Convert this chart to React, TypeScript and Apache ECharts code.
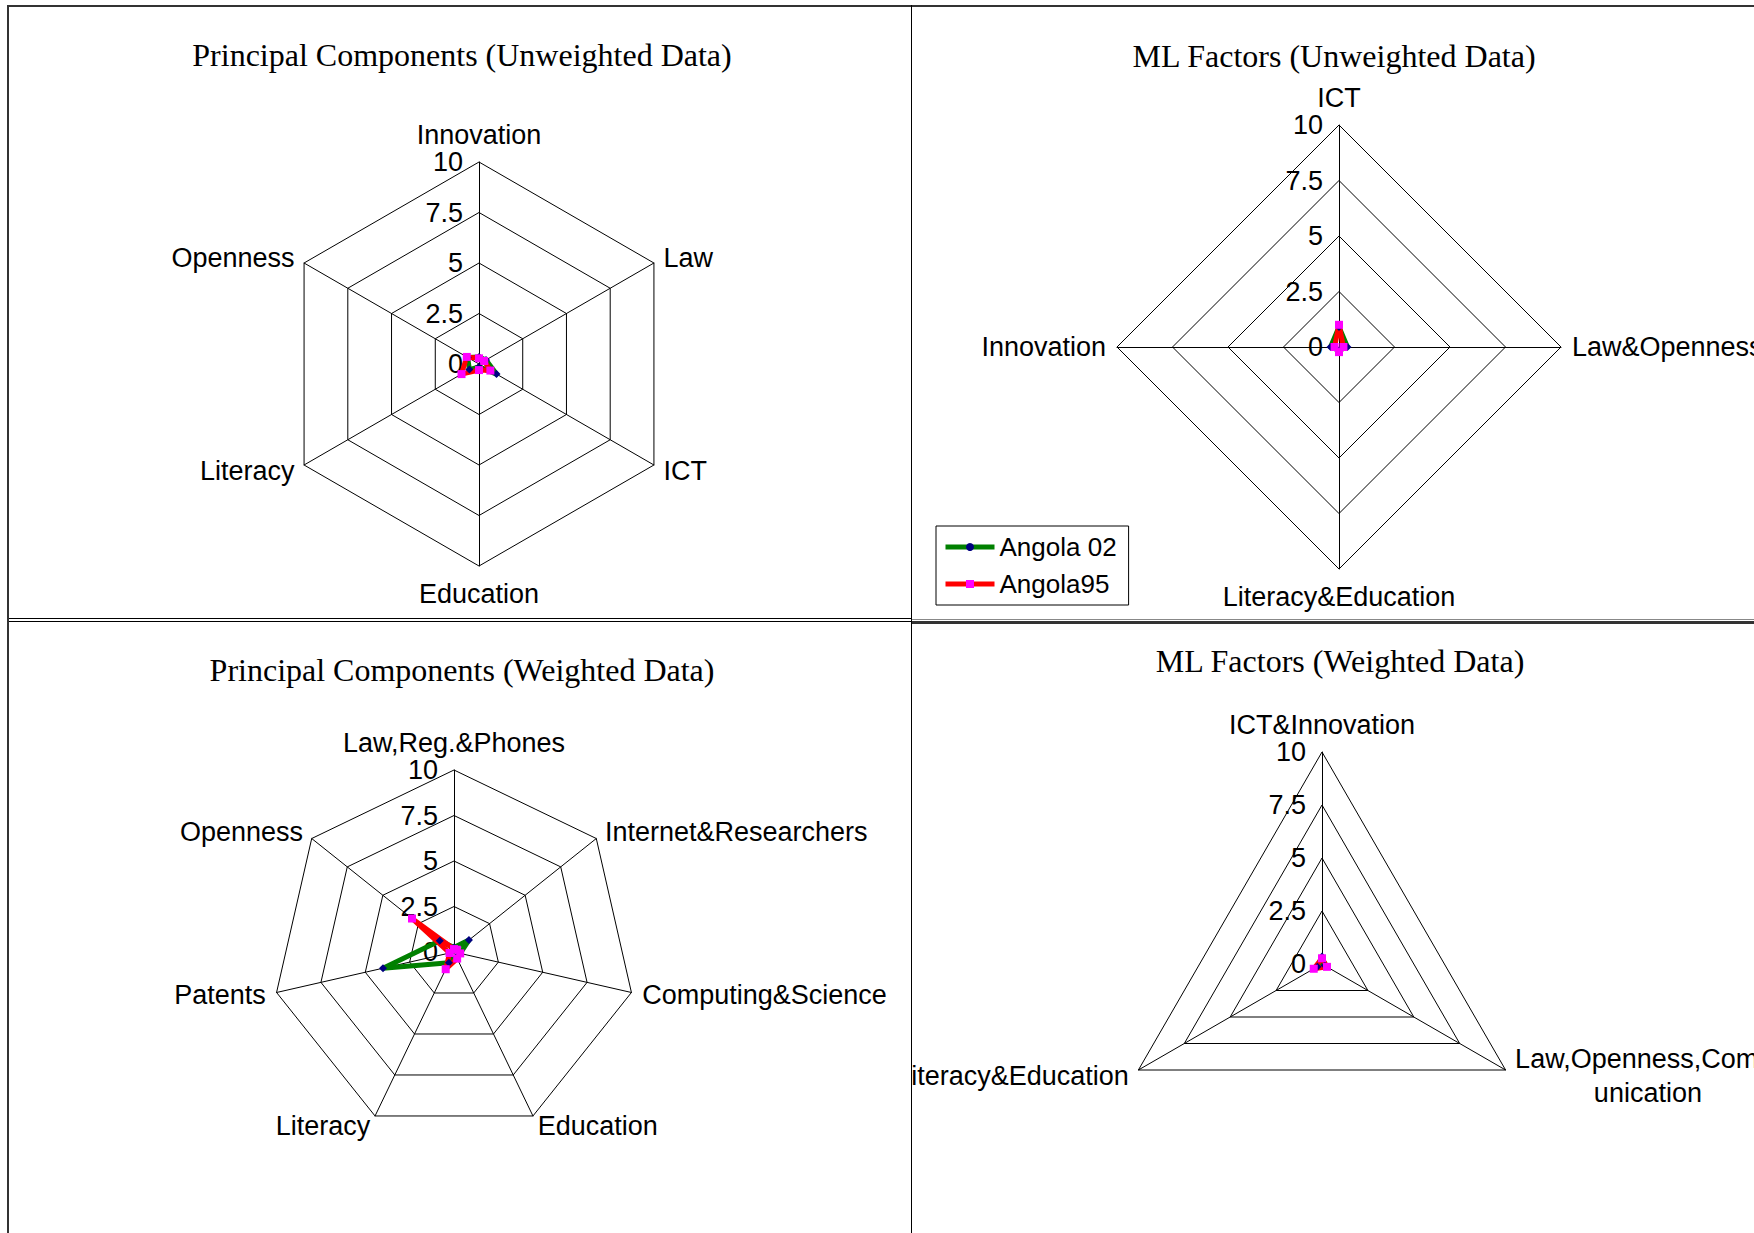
import React, { useEffect, useRef } from "react";
import * as echarts from "echarts";

// ---------- data ----------
const seriesNames = ["Angola 02", "Angola95"];

// Principal Components (Unweighted Data) — axes listed clockwise from top
const pcuAxes = ["Innovation", "Law", "ICT", "Education", "Literacy", "Openness"];
const pcuAngola02 = [0.35, 0.4, 1.0, 0.15, 0.55, 0.65];
const pcuAngola95 = [0.28, 0.3, 0.65, 0.3, 1.0, 0.7];

// ML Factors (Unweighted Data)
const mluAxes = ["ICT", "Law&Openness", "Literacy&Education", "Innovation"];
const mluAngola02 = [0.9, 0.38, 0.15, 0.38];
const mluAngola95 = [1.0, 0.2, 0.23, 0.2];

// Principal Components (Weighted Data)
const pcwAxes = [
  "Law,Reg.&Phones",
  "Internet&Researchers",
  "Computing&Science",
  "Education",
  "Literacy",
  "Patents",
  "Openness",
];
const pcwAngola02 = [0.25, 1.05, 0.35, 0.3, 0.65, 4.0, 1.0];
const pcwAngola95 = [0.16, 0.2, 0.35, 0.4, 1.05, 0.25, 2.95];

// ML Factors (Weighted Data)
const mlwAxes = ["ICT&Innovation", "Law,Openness,Communication", "Literacy&Education"];
const mlwAngola02 = [0.35, 0.15, 0.25];
const mlwAngola95 = [0.27, 0.27, 0.45];

const axisMin = 0;
const axisMax = 10;
const axisSplits = 4;

// ---------- styling ----------
const SANS = "Liberation Sans";
const SERIF = "Liberation Serif";
const GREEN = "#008000";
const NAVY = "#000080";
const RED = "#FF0000";
const MAGENTA = "#FF00FF";
const LABEL_SIZE = 27;

// ECharts lays radar indicators out counter-clockwise; the reference is clockwise.
const ccw = <T,>(a: T[]): T[] => [a[0], ...a.slice(1).reverse()];

// very long names wrap into centred lines (as in the reference)
const wrapName = (name: string, maxLen: number, chunk: number) => {
  if (name.length <= maxLen) return name;
  const parts: string[] = [];
  for (let i = 0; i < name.length; i += chunk) parts.push(name.slice(i, i + chunk));
  return parts.map((p) => `{c|${p}}`).join("\n");
};

type Cfg = {
  title: string;
  titleX: number;
  titleY: number;
  center: [number, number];
  radius: number;
  axes: string[];
  a02: number[];
  a95: number[];
  legend?: boolean;
};

function buildOption(cfg: Cfg): any {
  const n = cfg.axes.length;
  const indicator = ccw(cfg.axes).map((name, i) => {
    const vertical = i === 0 || (n % 2 === 0 && i === n / 2);
    return {
      name,
      min: axisMin,
      max: axisMax,
      nameGap: vertical ? 14 : 11,
      ...(i === 0 ? { axisLabel: { show: true } } : {}),
    };
  });
  const option: any = {
    animation: false,
    title: {
      text: cfg.title,
      left: cfg.titleX,
      top: cfg.titleY,
      textAlign: "center",
      textVerticalAlign: "middle",
      padding: 0,
      textStyle: { fontFamily: SERIF, fontSize: 32, fontWeight: "normal", color: "#000" },
    },
    radar: {
      center: cfg.center,
      radius: cfg.radius,
      startAngle: 90,
      splitNumber: axisSplits,
      shape: "polygon",
      indicator,
      nameGap: 11,
      axisName: {
        color: "#000",
        fontFamily: SANS,
        fontSize: LABEL_SIZE,
        formatter: (name: string) => wrapName(name, 20, 17),
        rich: {
          c: { align: "center", fontFamily: SANS, fontSize: LABEL_SIZE, color: "#000", lineHeight: 34 },
        },
      },
      splitLine: { lineStyle: { color: "#000", width: 1 } },
      splitArea: { show: false },
      axisLine: { lineStyle: { color: "#000", width: 1 } },
      axisTick: { show: false },
      axisLabel: { show: false, color: "#000", fontFamily: SANS, fontSize: LABEL_SIZE, margin: 16 },
    },
    series: [
      {
        type: "radar",
        data: [
          {
            name: seriesNames[0],
            value: ccw(cfg.a02),
            symbol: "diamond",
            symbolSize: 8,
            lineStyle: { color: GREEN, width: 5 },
            itemStyle: { color: NAVY },
          },
          {
            name: seriesNames[1],
            value: ccw(cfg.a95),
            symbol: "rect",
            symbolSize: 8,
            lineStyle: { color: RED, width: 5 },
            itemStyle: { color: MAGENTA },
          },
        ],
      },
    ],
  };
  if (cfg.legend) {
    option.grid = { show: false, left: 0, top: 0, width: 1, height: 1 };
    option.xAxis = { type: "category", show: false, data: [] };
    option.yAxis = { type: "value", show: false };
    option.series.unshift(
      {
        type: "line",
        name: seriesNames[0],
        data: [],
        symbol: "circle",
        lineStyle: { color: GREEN, width: 5 },
        itemStyle: { color: NAVY },
      },
      {
        type: "line",
        name: seriesNames[1],
        data: [],
        symbol: "rect",
        lineStyle: { color: RED, width: 5 },
        itemStyle: { color: MAGENTA },
      }
    );
    option.legend = {
      left: 24,
      top: 519,
      orient: "vertical",
      padding: [8, 12, 8, 7],
      itemGap: 11,
      itemWidth: 49,
      itemHeight: 10,
      borderColor: "#000",
      borderWidth: 1,
      borderRadius: 0,
      backgroundColor: "#fff",
      textStyle: { fontFamily: SANS, fontSize: 26, color: "#000" },
      data: [
        {
          name: seriesNames[0],
          itemStyle: { color: NAVY, borderWidth: 0 },
          lineStyle: { color: GREEN, width: 5 },
        },
        {
          name: seriesNames[1],
          itemStyle: { color: MAGENTA, borderWidth: 0 },
          lineStyle: { color: RED, width: 5 },
        },
      ],
    };
  }
  return option;
}

const panels = [
  {
    box: { left: 9, top: 7, width: 902, height: 611 },
    option: buildOption({
      title: "Principal Components (Unweighted Data)",
      titleX: 453,
      titleY: 48,
      center: [470, 357],
      radius: 202,
      axes: pcuAxes,
      a02: pcuAngola02,
      a95: pcuAngola95,
    }),
  },
  {
    box: { left: 912, top: 7, width: 842, height: 612 },
    option: buildOption({
      title: "ML Factors (Unweighted Data)",
      titleX: 422,
      titleY: 49,
      center: [427, 340],
      radius: 222,
      axes: mluAxes,
      a02: mluAngola02,
      a95: mluAngola95,
      legend: true,
    }),
  },
  {
    box: { left: 9, top: 622, width: 902, height: 611 },
    option: buildOption({
      title: "Principal Components (Weighted Data)",
      titleX: 453,
      titleY: 48,
      center: [445, 330],
      radius: 182,
      axes: pcwAxes,
      a02: pcwAngola02,
      a95: pcwAngola95,
    }),
  },
  {
    box: { left: 912, top: 625, width: 842, height: 608 },
    option: buildOption({
      title: "ML Factors (Weighted Data)",
      titleX: 428,
      titleY: 36,
      center: [410, 339],
      radius: 212,
      axes: mlwAxes,
      a02: mlwAngola02,
      a95: mlwAngola95,
    }),
  },
];

function RadarPanel({ option, box }: { option: any; box: any }) {
  const ref = useRef<HTMLDivElement>(null);
  useEffect(() => {
    if (!ref.current) return;
    const chart = echarts.init(ref.current, null, { renderer: "svg" });
    chart.setOption(option);
    return () => chart.dispose();
  }, [option]);
  return <div ref={ref} style={{ position: "absolute", ...box, overflow: "hidden" }} />;
}

const lineDiv = (s: any, key: string) => (
  <div key={key} style={{ position: "absolute", zIndex: 5, ...s }} />
);

export default function App() {
  return (
    <div
      style={{
        position: "fixed",
        left: 0,
        top: 0,
        width: 1754,
        height: 1233,
        background: "#fff",
        overflow: "hidden",
      }}
    >
      {panels.map((p, i) => (
        <RadarPanel key={i} option={p.option} box={p.box} />
      ))}
      {lineDiv({ left: 7, top: 5, width: 1747, height: 2, background: "#333" }, "top")}
      {lineDiv({ left: 7, top: 5, width: 2, height: 1228, background: "#333" }, "left")}
      {lineDiv({ left: 911, top: 5, width: 1, height: 1228, background: "#000" }, "mid")}
      {lineDiv({ left: 9, top: 618, width: 902, height: 1, background: "#000" }, "h1")}
      {lineDiv({ left: 9, top: 621, width: 902, height: 1, background: "#000" }, "h2")}
      {lineDiv({ left: 912, top: 619, width: 842, height: 1, background: "#888" }, "h3")}
      {lineDiv({ left: 912, top: 621, width: 842, height: 3, background: "#333" }, "h4")}
    </div>
  );
}
